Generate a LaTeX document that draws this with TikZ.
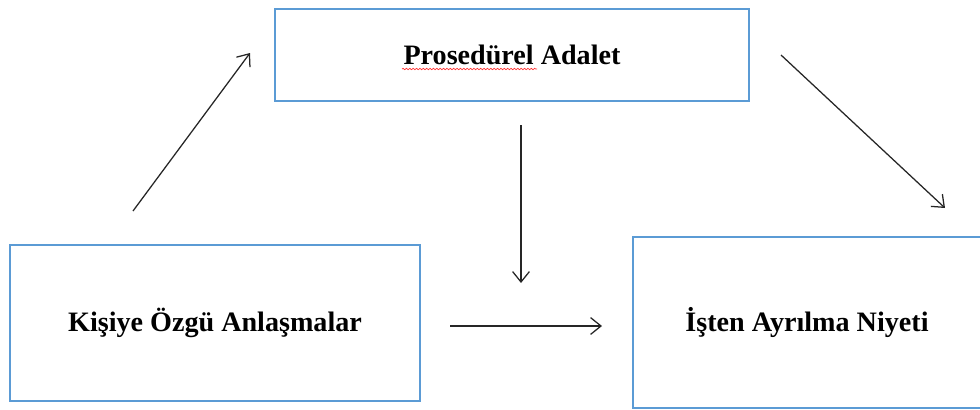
\documentclass[tikz,border=0pt]{standalone}
\usepackage{fontspec}
\setmainfont{Liberation Serif}
\usetikzlibrary{positioning}
\usetikzlibrary{arrows.meta}
\usetikzlibrary{decorations.pathmorphing}

\definecolor{kutumavi}{RGB}{91,155,213}

\begin{document}
\begin{tikzpicture}[
        x=0.025cm, y=-0.025cm,
        every node/.style={font=\fontsize{20}{24}\selectfont\bfseries},
        kutu/.style={draw=kutumavi, line width=1.6pt, fill=white, inner sep=0pt},
        ok/.style={-{Straight Barb[length=2.6mm,width=4.2mm]}, line width=0.9pt, draw=black!85}
    ]

        \useasboundingbox (0,0) rectangle (980,409);
        \clip (0,0) rectangle (980,409);

        % -------------------------------------------------
        % Kutular
        % -------------------------------------------------
        \node[kutu, minimum width=11.85cm, minimum height=2.3cm] (adalet) at (512,55) {Prosedürel Adalet};
        \node[kutu, minimum width=10.25cm, minimum height=3.9cm] (kisiye) at (215,323) {Kişiye Özgü Anlaşmalar};
        \node[kutu, minimum width=8.7cm, minimum height=4.275cm] (niyet) at (807,322.5) {İşten Ayrılma Niyeti};

        % yazim denetimi cizgisi
        \draw[red!80, line width=0.5pt, decorate,
              decoration={snake, amplitude=0.5pt, segment length=2.4pt}] (402,69) -- (537,69);

        % -------------------------------------------------
        % Oklar
        % -------------------------------------------------
        \coordinate (ok1bas) at (133,211);
        \coordinate (ok1son) at (250,53);
        \draw[ok] (ok1bas) -- (ok1son);

        \coordinate (ok2bas) at (521,125);
        \coordinate (ok2son) at (521,283);
        \draw[ok] (ok2bas) -- (ok2son);

        \coordinate (ok3bas) at (450,326);
        \coordinate (ok3son) at (602,326);
        \draw[ok] (ok3bas) -- (ok3son);

        \coordinate (ok4bas) at (781,55);
        \coordinate (ok4son) at (945,208);
        \draw[ok] (ok4bas) -- (ok4son);

    \end{tikzpicture}
\end{document}
